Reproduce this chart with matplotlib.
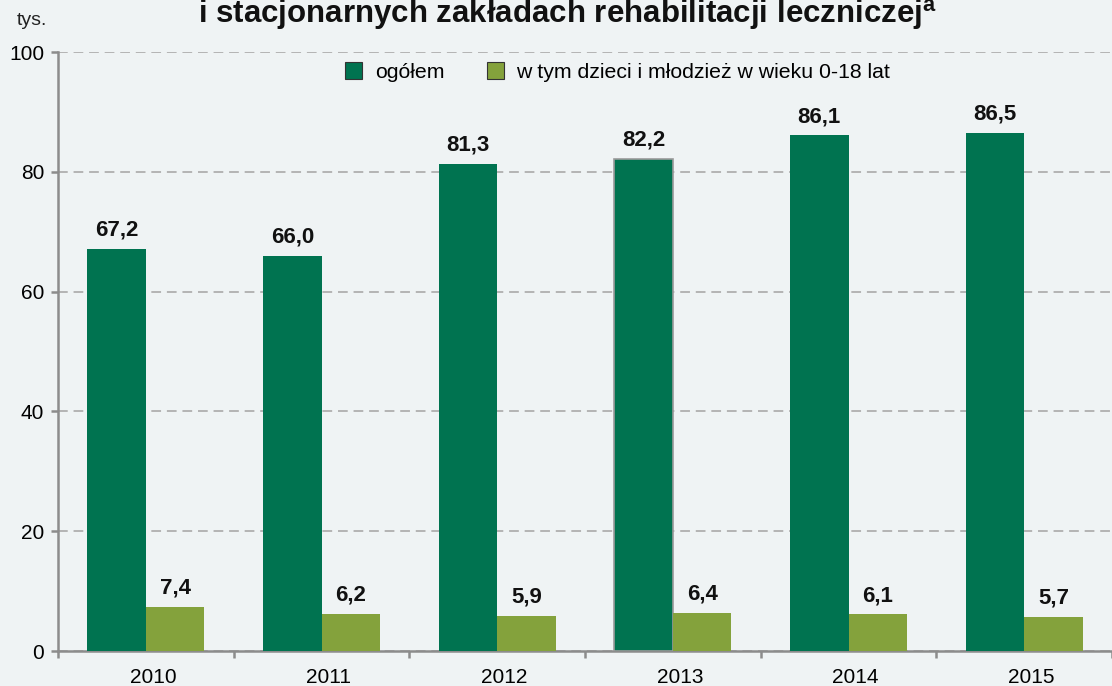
import matplotlib
matplotlib.use("Agg")
import matplotlib.pyplot as plt
import matplotlib.transforms as mtransforms
import numpy as np

years = ["2010", "2011", "2012", "2013", "2014", "2015"]
total = [67.2, 66.0, 81.3, 82.2, 86.1, 86.5]
children = [7.4, 6.2, 5.9, 6.4, 6.1, 5.7]
series_names = ["ogółem", "w tym dzieci i młodzież w wieku 0-18 lat"]

BG = "#eff3f4"
DARK = "#007350"
LIGHT = "#84a23c"

plt.rcParams["font.family"] = ["Liberation Sans", "DejaVu Sans"]

fig = plt.figure(figsize=(11.12, 6.86), dpi=100)
fig.patch.set_facecolor(BG)
ax = fig.add_axes([0.0522, 0.051, 0.9478, 0.873])
ax.set_facecolor(BG)

x = np.arange(len(years))
w = 0.333
b1 = ax.bar(x - w / 2, total, w, color=DARK, label=series_names[0], zorder=3)
b2 = ax.bar(x + w / 2, children, w, color=LIGHT, label=series_names[1], zorder=3)
b1[3].set_edgecolor("#9a9a9a")
b1[3].set_linewidth(1.2)

for bars, vals in ((b1, total), (b2, children)):
    for r, v in zip(bars, vals):
        ax.annotate(f"{v:.1f}".replace(".", ","),
                    (r.get_x() + r.get_width() / 2, r.get_height()),
                    xytext=(0, 6), textcoords="offset points",
                    ha="center", va="bottom", fontsize=16, fontweight="bold",
                    color="#111111", zorder=5)

ax.set_ylim(0, 100)
ax.set_xlim(-0.5, 5.455)
ax.set_yticks(range(0, 101, 20))
ax.yaxis.grid(True, linestyle=(0, (5, 3)), color="#b4b4b4", lw=1.4, zorder=0)
ax.set_axisbelow(True)

ax.set_xticks(x)
ax.set_xticklabels(years)
ax.set_xticks(np.arange(-0.5, 6, 1), minor=True)
ax.tick_params(axis="x", which="major", length=0, pad=12, labelsize=15)
ax.tick_params(axis="x", which="minor", length=5, width=1.8, color="#8c8c8c")
ax.tick_params(axis="y", length=5, width=1.8, color="#8c8c8c", labelsize=15, pad=5)

# year labels sit slightly right of the group centre in the original
shift = mtransforms.ScaledTranslation(7 / 100, 0, fig.dpi_scale_trans)
for lab in ax.get_xticklabels():
    lab.set_transform(lab.get_transform() + shift)

for s in ("top", "right"):
    ax.spines[s].set_visible(False)
for s in ("left", "bottom"):
    ax.spines[s].set_color("#8c8c8c")
    ax.spines[s].set_linewidth(1.8)

leg = ax.legend(loc="center", bbox_to_anchor=(0.531, 0.967), ncol=2,
                frameon=False, fontsize=15.3, handlelength=0.8, handleheight=0.9,
                columnspacing=2.0, handletextpad=0.6)
for h in leg.legend_handles:
    h.set_edgecolor("#333333")
    h.set_linewidth(0.8)

fig.text(0.015, 0.97, "tys.", fontsize=14, ha="left", va="center", color="#222222")
fig.text(0.51, 0.979, "i stacjonarnych zakładach rehabilitacji leczniczej$^{\\mathregular{a}}$",
         fontsize=22.5, fontweight="bold", ha="center", va="center", color="#111111")

fig.savefig("out.png", dpi=100, facecolor=BG)
